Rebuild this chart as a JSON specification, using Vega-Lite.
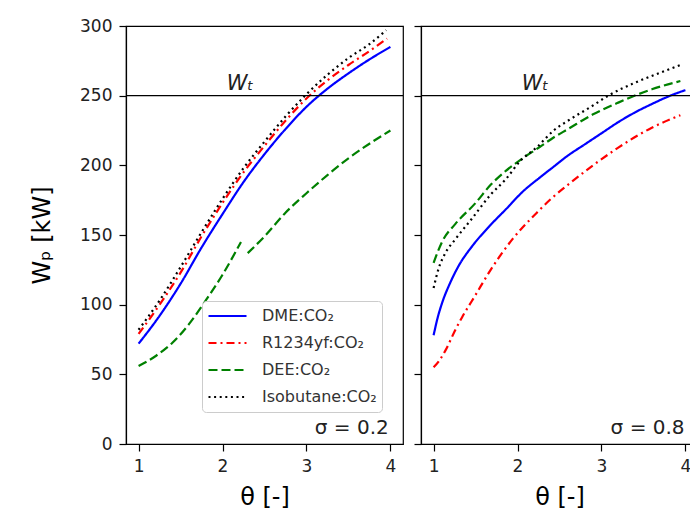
{
  "$schema": "https://vega.github.io/schema/vega-lite/v6.json",
  "padding": {"left": 29, "top": 16, "right": 0, "bottom": 0},
  "background": "white",
  "datasets": {
    "curves": [
      {"panel": "0.2", "fluid": "DME:CO₂", "seg": 1, "theta": 1.0, "W": 72},
      {"panel": "0.2", "fluid": "DME:CO₂", "seg": 1, "theta": 1.25, "W": 92},
      {"panel": "0.2", "fluid": "DME:CO₂", "seg": 1, "theta": 1.5, "W": 115},
      {"panel": "0.2", "fluid": "DME:CO₂", "seg": 1, "theta": 1.75, "W": 141},
      {"panel": "0.2", "fluid": "DME:CO₂", "seg": 1, "theta": 2.0, "W": 165},
      {"panel": "0.2", "fluid": "DME:CO₂", "seg": 1, "theta": 2.25, "W": 188},
      {"panel": "0.2", "fluid": "DME:CO₂", "seg": 1, "theta": 2.5, "W": 208},
      {"panel": "0.2", "fluid": "DME:CO₂", "seg": 1, "theta": 2.75, "W": 226},
      {"panel": "0.2", "fluid": "DME:CO₂", "seg": 1, "theta": 3.0, "W": 242},
      {"panel": "0.2", "fluid": "DME:CO₂", "seg": 1, "theta": 3.25, "W": 255},
      {"panel": "0.2", "fluid": "DME:CO₂", "seg": 1, "theta": 3.5, "W": 266},
      {"panel": "0.2", "fluid": "DME:CO₂", "seg": 1, "theta": 3.75, "W": 276},
      {"panel": "0.2", "fluid": "DME:CO₂", "seg": 1, "theta": 4.0, "W": 285},
      {"panel": "0.2", "fluid": "R1234yf:CO₂", "seg": 1, "theta": 1.0, "W": 79},
      {"panel": "0.2", "fluid": "R1234yf:CO₂", "seg": 1, "theta": 1.25, "W": 100},
      {"panel": "0.2", "fluid": "R1234yf:CO₂", "seg": 1, "theta": 1.5, "W": 123},
      {"panel": "0.2", "fluid": "R1234yf:CO₂", "seg": 1, "theta": 1.75, "W": 149},
      {"panel": "0.2", "fluid": "R1234yf:CO₂", "seg": 1, "theta": 2.0, "W": 173},
      {"panel": "0.2", "fluid": "R1234yf:CO₂", "seg": 1, "theta": 2.25, "W": 195},
      {"panel": "0.2", "fluid": "R1234yf:CO₂", "seg": 1, "theta": 2.5, "W": 214},
      {"panel": "0.2", "fluid": "R1234yf:CO₂", "seg": 1, "theta": 2.75, "W": 232},
      {"panel": "0.2", "fluid": "R1234yf:CO₂", "seg": 1, "theta": 3.0, "W": 248},
      {"panel": "0.2", "fluid": "R1234yf:CO₂", "seg": 1, "theta": 3.25, "W": 261},
      {"panel": "0.2", "fluid": "R1234yf:CO₂", "seg": 1, "theta": 3.5, "W": 272},
      {"panel": "0.2", "fluid": "R1234yf:CO₂", "seg": 1, "theta": 3.75, "W": 282},
      {"panel": "0.2", "fluid": "R1234yf:CO₂", "seg": 1, "theta": 3.96, "W": 291},
      {"panel": "0.2", "fluid": "DEE:CO₂", "seg": 1, "theta": 1.0, "W": 56},
      {"panel": "0.2", "fluid": "DEE:CO₂", "seg": 1, "theta": 1.2, "W": 63},
      {"panel": "0.2", "fluid": "DEE:CO₂", "seg": 1, "theta": 1.4, "W": 72.5},
      {"panel": "0.2", "fluid": "DEE:CO₂", "seg": 1, "theta": 1.6, "W": 86},
      {"panel": "0.2", "fluid": "DEE:CO₂", "seg": 1, "theta": 1.8, "W": 103},
      {"panel": "0.2", "fluid": "DEE:CO₂", "seg": 1, "theta": 2.0, "W": 121.5},
      {"panel": "0.2", "fluid": "DEE:CO₂", "seg": 1, "theta": 2.22, "W": 145},
      {"panel": "0.2", "fluid": "DEE:CO₂", "seg": 2, "theta": 2.3, "W": 137},
      {"panel": "0.2", "fluid": "DEE:CO₂", "seg": 2, "theta": 2.5, "W": 149},
      {"panel": "0.2", "fluid": "DEE:CO₂", "seg": 2, "theta": 2.75, "W": 166},
      {"panel": "0.2", "fluid": "DEE:CO₂", "seg": 2, "theta": 3.0, "W": 180},
      {"panel": "0.2", "fluid": "DEE:CO₂", "seg": 2, "theta": 3.25, "W": 193},
      {"panel": "0.2", "fluid": "DEE:CO₂", "seg": 2, "theta": 3.5, "W": 205},
      {"panel": "0.2", "fluid": "DEE:CO₂", "seg": 2, "theta": 3.75, "W": 215.5},
      {"panel": "0.2", "fluid": "DEE:CO₂", "seg": 2, "theta": 4.0, "W": 225},
      {"panel": "0.2", "fluid": "Isobutane:CO₂", "seg": 1, "theta": 1.0, "W": 82},
      {"panel": "0.2", "fluid": "Isobutane:CO₂", "seg": 1, "theta": 1.25, "W": 103},
      {"panel": "0.2", "fluid": "Isobutane:CO₂", "seg": 1, "theta": 1.5, "W": 127},
      {"panel": "0.2", "fluid": "Isobutane:CO₂", "seg": 1, "theta": 1.75, "W": 152},
      {"panel": "0.2", "fluid": "Isobutane:CO₂", "seg": 1, "theta": 2.0, "W": 176},
      {"panel": "0.2", "fluid": "Isobutane:CO₂", "seg": 1, "theta": 2.25, "W": 198},
      {"panel": "0.2", "fluid": "Isobutane:CO₂", "seg": 1, "theta": 2.5, "W": 217},
      {"panel": "0.2", "fluid": "Isobutane:CO₂", "seg": 1, "theta": 2.75, "W": 235},
      {"panel": "0.2", "fluid": "Isobutane:CO₂", "seg": 1, "theta": 3.0, "W": 251},
      {"panel": "0.2", "fluid": "Isobutane:CO₂", "seg": 1, "theta": 3.25, "W": 265},
      {"panel": "0.2", "fluid": "Isobutane:CO₂", "seg": 1, "theta": 3.5, "W": 277},
      {"panel": "0.2", "fluid": "Isobutane:CO₂", "seg": 1, "theta": 3.75, "W": 287},
      {"panel": "0.2", "fluid": "Isobutane:CO₂", "seg": 1, "theta": 3.95, "W": 297},

      {"panel": "0.8", "fluid": "DME:CO₂", "seg": 1, "theta": 1.0, "W": 78},
      {"panel": "0.8", "fluid": "DME:CO₂", "seg": 1, "theta": 1.05, "W": 91},
      {"panel": "0.8", "fluid": "DME:CO₂", "seg": 1, "theta": 1.1, "W": 101},
      {"panel": "0.8", "fluid": "DME:CO₂", "seg": 1, "theta": 1.2, "W": 116},
      {"panel": "0.8", "fluid": "DME:CO₂", "seg": 1, "theta": 1.3, "W": 128},
      {"panel": "0.8", "fluid": "DME:CO₂", "seg": 1, "theta": 1.46, "W": 142},
      {"panel": "0.8", "fluid": "DME:CO₂", "seg": 1, "theta": 1.66, "W": 156},
      {"panel": "0.8", "fluid": "DME:CO₂", "seg": 1, "theta": 1.87, "W": 169},
      {"panel": "0.8", "fluid": "DME:CO₂", "seg": 1, "theta": 2.06, "W": 181},
      {"panel": "0.8", "fluid": "DME:CO₂", "seg": 1, "theta": 2.26, "W": 191},
      {"panel": "0.8", "fluid": "DME:CO₂", "seg": 1, "theta": 2.43, "W": 199},
      {"panel": "0.8", "fluid": "DME:CO₂", "seg": 1, "theta": 2.6, "W": 207},
      {"panel": "0.8", "fluid": "DME:CO₂", "seg": 1, "theta": 2.8, "W": 215},
      {"panel": "0.8", "fluid": "DME:CO₂", "seg": 1, "theta": 3.0, "W": 223},
      {"panel": "0.8", "fluid": "DME:CO₂", "seg": 1, "theta": 3.2, "W": 231},
      {"panel": "0.8", "fluid": "DME:CO₂", "seg": 1, "theta": 3.4, "W": 238},
      {"panel": "0.8", "fluid": "DME:CO₂", "seg": 1, "theta": 3.6, "W": 244},
      {"panel": "0.8", "fluid": "DME:CO₂", "seg": 1, "theta": 3.8, "W": 249.5},
      {"panel": "0.8", "fluid": "DME:CO₂", "seg": 1, "theta": 4.0, "W": 254},
      {"panel": "0.8", "fluid": "R1234yf:CO₂", "seg": 1, "theta": 1.0, "W": 55},
      {"panel": "0.8", "fluid": "R1234yf:CO₂", "seg": 1, "theta": 1.07, "W": 60},
      {"panel": "0.8", "fluid": "R1234yf:CO₂", "seg": 1, "theta": 1.14, "W": 67},
      {"panel": "0.8", "fluid": "R1234yf:CO₂", "seg": 1, "theta": 1.26, "W": 82},
      {"panel": "0.8", "fluid": "R1234yf:CO₂", "seg": 1, "theta": 1.34, "W": 91},
      {"panel": "0.8", "fluid": "R1234yf:CO₂", "seg": 1, "theta": 1.5, "W": 107},
      {"panel": "0.8", "fluid": "R1234yf:CO₂", "seg": 1, "theta": 1.68, "W": 125},
      {"panel": "0.8", "fluid": "R1234yf:CO₂", "seg": 1, "theta": 1.94, "W": 147},
      {"panel": "0.8", "fluid": "R1234yf:CO₂", "seg": 1, "theta": 2.23, "W": 166},
      {"panel": "0.8", "fluid": "R1234yf:CO₂", "seg": 1, "theta": 2.4, "W": 176},
      {"panel": "0.8", "fluid": "R1234yf:CO₂", "seg": 1, "theta": 2.6, "W": 186},
      {"panel": "0.8", "fluid": "R1234yf:CO₂", "seg": 1, "theta": 2.9, "W": 200},
      {"panel": "0.8", "fluid": "R1234yf:CO₂", "seg": 1, "theta": 3.2, "W": 212.7},
      {"panel": "0.8", "fluid": "R1234yf:CO₂", "seg": 1, "theta": 3.6, "W": 227},
      {"panel": "0.8", "fluid": "R1234yf:CO₂", "seg": 1, "theta": 3.94, "W": 236},
      {"panel": "0.8", "fluid": "DEE:CO₂", "seg": 1, "theta": 1.0, "W": 130},
      {"panel": "0.8", "fluid": "DEE:CO₂", "seg": 1, "theta": 1.05, "W": 138},
      {"panel": "0.8", "fluid": "DEE:CO₂", "seg": 1, "theta": 1.1, "W": 145},
      {"panel": "0.8", "fluid": "DEE:CO₂", "seg": 1, "theta": 1.26, "W": 158},
      {"panel": "0.8", "fluid": "DEE:CO₂", "seg": 1, "theta": 1.5, "W": 173},
      {"panel": "0.8", "fluid": "DEE:CO₂", "seg": 1, "theta": 1.68, "W": 186},
      {"panel": "0.8", "fluid": "DEE:CO₂", "seg": 1, "theta": 1.86, "W": 196},
      {"panel": "0.8", "fluid": "DEE:CO₂", "seg": 1, "theta": 2.06, "W": 205},
      {"panel": "0.8", "fluid": "DEE:CO₂", "seg": 1, "theta": 2.26, "W": 213},
      {"panel": "0.8", "fluid": "DEE:CO₂", "seg": 1, "theta": 2.43, "W": 220},
      {"panel": "0.8", "fluid": "DEE:CO₂", "seg": 1, "theta": 2.6, "W": 226},
      {"panel": "0.8", "fluid": "DEE:CO₂", "seg": 1, "theta": 2.9, "W": 236.6},
      {"panel": "0.8", "fluid": "DEE:CO₂", "seg": 1, "theta": 3.2, "W": 245},
      {"panel": "0.8", "fluid": "DEE:CO₂", "seg": 1, "theta": 3.6, "W": 254.6},
      {"panel": "0.8", "fluid": "DEE:CO₂", "seg": 1, "theta": 3.94, "W": 260.5},
      {"panel": "0.8", "fluid": "Isobutane:CO₂", "seg": 1, "theta": 1.0, "W": 112},
      {"panel": "0.8", "fluid": "Isobutane:CO₂", "seg": 1, "theta": 1.06, "W": 126},
      {"panel": "0.8", "fluid": "Isobutane:CO₂", "seg": 1, "theta": 1.14, "W": 137},
      {"panel": "0.8", "fluid": "Isobutane:CO₂", "seg": 1, "theta": 1.26, "W": 147},
      {"panel": "0.8", "fluid": "Isobutane:CO₂", "seg": 1, "theta": 1.46, "W": 162},
      {"panel": "0.8", "fluid": "Isobutane:CO₂", "seg": 1, "theta": 1.68, "W": 179},
      {"panel": "0.8", "fluid": "Isobutane:CO₂", "seg": 1, "theta": 1.86, "W": 190},
      {"panel": "0.8", "fluid": "Isobutane:CO₂", "seg": 1, "theta": 2.03, "W": 203},
      {"panel": "0.8", "fluid": "Isobutane:CO₂", "seg": 1, "theta": 2.23, "W": 213},
      {"panel": "0.8", "fluid": "Isobutane:CO₂", "seg": 1, "theta": 2.43, "W": 225},
      {"panel": "0.8", "fluid": "Isobutane:CO₂", "seg": 1, "theta": 2.6, "W": 232},
      {"panel": "0.8", "fluid": "Isobutane:CO₂", "seg": 1, "theta": 2.9, "W": 243},
      {"panel": "0.8", "fluid": "Isobutane:CO₂", "seg": 1, "theta": 3.08, "W": 250},
      {"panel": "0.8", "fluid": "Isobutane:CO₂", "seg": 1, "theta": 3.4, "W": 259.3},
      {"panel": "0.8", "fluid": "Isobutane:CO₂", "seg": 1, "theta": 3.7, "W": 266.5},
      {"panel": "0.8", "fluid": "Isobutane:CO₂", "seg": 1, "theta": 3.94, "W": 272}
    ],
    "notes": [
      {"panel": "0.2", "kind": "wt", "label": "Wₜ", "theta": 2.21, "W": 254},
      {"panel": "0.2", "kind": "sigma", "label": "σ = 0.2", "theta": 3.98, "W": 7},
      {"panel": "0.8", "kind": "wt", "label": "Wₜ", "theta": 2.21, "W": 254},
      {"panel": "0.8", "kind": "sigma", "label": "σ = 0.8", "theta": 3.99, "W": 7.5}
    ],
    "target": [{"Wt": 250}]
  },
  "config": {
    "font": "DejaVu Sans",
    "view": {"stroke": "black", "strokeWidth": 1.2},
    "axis": {
      "grid": false,
      "domainColor": "black",
      "domainWidth": 1.2,
      "tickColor": "black",
      "tickWidth": 1.2,
      "tickSize": 7,
      "labelColor": "#222222",
      "titleColor": "black",
      "labelFont": "DejaVu Sans",
      "titleFont": "DejaVu Sans",
      "labelFontSize": 17,
      "titleFontSize": 24,
      "titleFontWeight": "normal",
      "labelPadding": 7
    }
  },
  "spacing": 7,
  "resolve": {"legend": {"color": "independent", "strokeDash": "independent"}},
  "hconcat": [
    {
      "width": 277,
      "height": 418,
      "layer": [
        {
          "data": {"name": "curves"},
          "transform": [{"filter": "datum.panel === '0.2'"}],
          "mark": {"type": "line", "strokeWidth": 2.2, "clip": true, "interpolate": "monotone"},
          "encoding": {
            "x": {"field": "theta", "type": "quantitative", "scale": {"domain": [0.85, 4.15], "nice": false, "zero": false}, "axis": {"values": [1, 2, 3, 4], "format": "d", "title": "θ [-]", "titlePadding": 11}},
            "y": {"field": "W", "type": "quantitative", "scale": {"domain": [0, 300], "nice": false}, "axis": {"values": [0, 50, 100, 150, 200, 250, 300], "title": "Wₚ [kW]", "titlePadding": 25}},
            "color": {
              "field": "fluid", "type": "nominal",
              "scale": {"domain": ["DME:CO₂", "R1234yf:CO₂", "DEE:CO₂", "Isobutane:CO₂"], "range": ["#0000ff", "#ff0000", "#008000", "#000000"]},
              "legend": {"orient": "none", "legendX": 76, "legendY": 275, "title": null, "symbolType": "stroke", "symbolSize": 1444, "symbolStrokeWidth": 2.2, "clipHeight": 20, "labelFontSize": 16, "labelFont": "DejaVu Sans", "labelColor": "#333333", "labelOffset": 14, "rowPadding": 7, "padding": 5, "strokeColor": "#cccccc", "fillColor": "white", "cornerRadius": 4}
            },
            "strokeDash": {
              "field": "fluid", "type": "nominal",
              "scale": {"domain": ["DME:CO₂", "R1234yf:CO₂", "DEE:CO₂", "Isobutane:CO₂"], "range": [[1, 0], [8, 4, 2, 4], [9, 4], [2, 3.6]]},
              "legend": {"orient": "none", "legendX": 76, "legendY": 275, "title": null, "symbolType": "stroke", "symbolSize": 1444, "symbolStrokeWidth": 2.2, "clipHeight": 20, "labelFontSize": 16, "labelFont": "DejaVu Sans", "labelColor": "#333333", "labelOffset": 14, "rowPadding": 7, "padding": 5, "strokeColor": "#cccccc", "fillColor": "white", "cornerRadius": 4}
            },
            "detail": {"field": "seg", "type": "nominal"}
          }
        },
        {
          "data": {"name": "target"},
          "mark": {"type": "rule", "color": "black", "strokeWidth": 1.4},
          "encoding": {"y": {"field": "Wt", "type": "quantitative"}}
        },
        {
          "data": {"name": "notes"},
          "transform": [{"filter": "datum.panel === '0.2' && datum.kind === 'wt'"}],
          "mark": {"type": "text", "fontSize": 21, "fontStyle": "italic", "baseline": "alphabetic", "align": "center", "color": "#222222"},
          "encoding": {"x": {"field": "theta", "type": "quantitative"}, "y": {"field": "W", "type": "quantitative"}, "text": {"field": "label"}}
        },
        {
          "data": {"name": "notes"},
          "transform": [{"filter": "datum.panel === '0.2' && datum.kind === 'sigma'"}],
          "mark": {"type": "text", "fontSize": 20, "baseline": "alphabetic", "align": "right", "color": "#222222"},
          "encoding": {"x": {"field": "theta", "type": "quantitative"}, "y": {"field": "W", "type": "quantitative"}, "text": {"field": "label"}}
        }
      ]
    },
    {
      "width": 277,
      "height": 418,
      "layer": [
        {
          "data": {"name": "curves"},
          "transform": [{"filter": "datum.panel === '0.8'"}],
          "mark": {"type": "line", "strokeWidth": 2.2, "clip": true, "interpolate": "monotone"},
          "encoding": {
            "x": {"field": "theta", "type": "quantitative", "scale": {"domain": [0.85, 4.15], "nice": false, "zero": false}, "axis": {"values": [1, 2, 3, 4], "format": "d", "title": "θ [-]", "titlePadding": 11}},
            "y": {"field": "W", "type": "quantitative", "scale": {"domain": [0, 300], "nice": false}, "axis": {"values": [0, 50, 100, 150, 200, 250, 300], "title": null, "labels": false}},
            "color": {
              "field": "fluid", "type": "nominal",
              "scale": {"domain": ["DME:CO₂", "R1234yf:CO₂", "DEE:CO₂", "Isobutane:CO₂"], "range": ["#0000ff", "#ff0000", "#008000", "#000000"]},
              "legend": null
            },
            "strokeDash": {
              "field": "fluid", "type": "nominal",
              "scale": {"domain": ["DME:CO₂", "R1234yf:CO₂", "DEE:CO₂", "Isobutane:CO₂"], "range": [[1, 0], [8, 4, 2, 4], [9, 4], [2, 3.6]]},
              "legend": null
            },
            "detail": {"field": "seg", "type": "nominal"}
          }
        },
        {
          "data": {"name": "target"},
          "mark": {"type": "rule", "color": "black", "strokeWidth": 1.4},
          "encoding": {"y": {"field": "Wt", "type": "quantitative"}}
        },
        {
          "data": {"name": "notes"},
          "transform": [{"filter": "datum.panel === '0.8' && datum.kind === 'wt'"}],
          "mark": {"type": "text", "fontSize": 21, "fontStyle": "italic", "baseline": "alphabetic", "align": "center", "color": "#222222"},
          "encoding": {"x": {"field": "theta", "type": "quantitative"}, "y": {"field": "W", "type": "quantitative"}, "text": {"field": "label"}}
        },
        {
          "data": {"name": "notes"},
          "transform": [{"filter": "datum.panel === '0.8' && datum.kind === 'sigma'"}],
          "mark": {"type": "text", "fontSize": 20, "baseline": "alphabetic", "align": "right", "color": "#222222"},
          "encoding": {"x": {"field": "theta", "type": "quantitative"}, "y": {"field": "W", "type": "quantitative"}, "text": {"field": "label"}}
        }
      ]
    }
  ]
}
